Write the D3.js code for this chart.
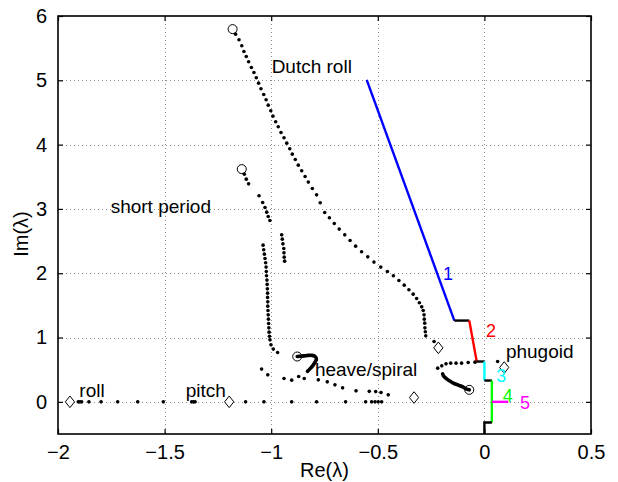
<!DOCTYPE html>
<html>
<head>
<meta charset="utf-8">
<script src="https://cdn.jsdelivr.net/npm/d3@7"></script>
<style>
  html, body { margin: 0; padding: 0; background: #fff; }
  svg { display: block; font-family: "Liberation Sans", Arial, Helvetica, sans-serif; }
</style>
</head>
<body>
<div id="chart"></div>
<script>
/* ---------- data (Re, Im) ---------- */
const xTicks = [-2, -1.5, -1, -0.5, 0, 0.5];
const yTicks = [0, 1, 2, 3, 4, 5, 6];

const dutchRoll = [
  [-1.167,5.718],[-1.151,5.630],[-1.138,5.537],[-1.128,5.448],[-1.117,5.370],
  [-1.106,5.288],[-1.093,5.199],[-1.081,5.121],[-1.070,5.039],[-1.059,4.956],
  [-1.048,4.868],[-1.035,4.779],[-1.024,4.697],[-1.014,4.614],[-1.002,4.526],
  [-0.992,4.443],[-0.979,4.355],[-0.967,4.277],[-0.954,4.188],[-0.940,4.106],
  [-0.927,4.023],[-0.913,3.935],[-0.901,3.852],[-0.887,3.768],[-0.873,3.681],
  [-0.857,3.593],[-0.841,3.504],[-0.826,3.417],[-0.807,3.317],[-0.787,3.219],
  [-0.770,3.095],[-0.749,2.944],[-0.727,2.862],[-0.704,2.773],[-0.681,2.686],
  [-0.655,2.597],[-0.630,2.509],[-0.604,2.421],[-0.576,2.333],[-0.547,2.255],
  [-0.518,2.173],[-0.486,2.095],[-0.455,2.026],[-0.427,1.960],[-0.401,1.886],
  [-0.376,1.815],[-0.354,1.742],[-0.334,1.675],[-0.318,1.607],[-0.305,1.540],
  [-0.294,1.477],[-0.287,1.420],[-0.283,1.353],[-0.282,1.286],[-0.280,1.224],
  [-0.279,1.151],[-0.277,1.089],[-0.275,1.026],[-0.236,0.938]
];

const shortPeriodA = [
  [-1.126,3.541],[-1.117,3.463],[-1.106,3.390],[-1.057,3.204],[-1.040,3.100],
  [-1.029,3.022],[-1.021,2.950],[-1.014,2.882],[-1.006,2.820]
];
const shortPeriodB = [
  [-0.951,2.597],[-0.948,2.530],[-0.945,2.457],[-0.941,2.384],[-0.940,2.317],
  [-0.939,2.250],[-0.937,2.188]
];
const shortPeriodC = [
  [-1.038,2.437],[-1.035,2.364],[-1.032,2.297],[-1.029,2.229],[-1.026,2.162],
  [-1.024,2.095],[-1.023,2.028],[-1.022,1.960],[-1.020,1.893],[-1.019,1.826],
  [-1.018,1.757],[-1.017,1.690],[-1.017,1.624],[-1.016,1.555],[-1.016,1.488],
  [-1.015,1.421],[-1.014,1.353],[-1.013,1.286],[-1.012,1.219],[-1.011,1.151],
  [-1.010,1.084],[-1.008,1.019],[-1.006,0.964],[-1.001,0.886],[-0.990,0.820],
  [-0.970,0.767]
];

const heaveHook = [
  [-0.878,0.705],[-0.865,0.708],[-0.846,0.715],[-0.827,0.723],[-0.809,0.723],
  [-0.795,0.708],[-0.788,0.669],[-0.795,0.614],[-0.804,0.568],[-0.816,0.521],
  [-0.830,0.474]
];
const heaveDots = [
  [-1.045,0.509],[-1.016,0.420],[-0.940,0.362],[-0.904,0.337],[-0.871,0.393],
  [-0.845,0.362],[-0.779,0.342],[-0.737,0.311],[-0.701,0.264],[-0.665,0.218],
  [-0.602,0.171],[-0.540,0.163],[-0.510,0.159],[-0.485,0.145],[-0.451,0.109]
];

const realAxisDots = [
  -1.905,-1.897,-1.889,-1.855,-1.798,-1.720,-1.626,-1.506,-1.373,-1.365,-1.357,
  -1.120,-1.034,-0.904,-0.787,-0.651,-0.557,-0.529,-0.513,-0.498,-0.482
];

const phugoidHook = [
  [-0.071,0.187],[-0.086,0.202],[-0.099,0.229],[-0.119,0.257],[-0.146,0.291],
  [-0.164,0.327],[-0.177,0.358],[-0.190,0.397],[-0.196,0.435]
];
const phugoidDots = [
  [-0.219,0.524],[-0.200,0.560],[-0.180,0.591],[-0.158,0.602],[-0.133,0.602],
  [-0.107,0.602],[-0.076,0.611],[-0.044,0.617],[0.062,0.627]
];

const openCircles = [[-1.181,5.796],[-1.138,3.619],[-0.878,0.705],[-0.071,0.187]];
const diamonds = [[-1.944,0],[-1.197,0],[-0.330,0.067],[-0.216,0.840],[0.093,0.534]];

// gain path pieces, in drawing order
const pathSegments = [
  [[-0.552,5.008],[-0.141,1.264]],
  [[-0.141,1.264],[-0.071,1.264]],
  [[-0.071,1.264],[-0.036,0.627]],
  [[-0.036,0.627],[0,0.627]],
  [[0,0.627],[0,0.331]],
  [[0,0.331],[0.035,0.331]],
  [[0.035,0.331],[0.035,-0.32]],
  [[0.035,-0.32],[0,-0.32],[0,-0.5]],
  [[0.035,0],[0.112,0]]
];
const segmentColors = ["#0000ff","#000","#ff0000","#000","#00ffff","#000","#00ff00","#000","#ff00ff"];

const stepLabels = ["1","2","3","4","5"];
const stepLabelPos = [[-0.194,1.897],[0.008,1.016],[0.056,0.306],[0.086,-0.005],[0.167,-0.109]];
const stepLabelColors = ["#0000ff","#ff0000","#00ffff","#00ff00","#ff00ff"];

const modeNames = ["Dutch roll","short period","heave/spiral","phugoid","roll","pitch"];
const modePos = [[-0.998,5.112],[-1.753,2.939],[-0.795,0.404],[0.101,0.684],[-1.900,0.073],[-1.401,0.082]];

/* ---------- layout ---------- */
const W = 618, H = 482;
const mLeft = 58, mRight = 591, mTop = 16, mBottom = 434;

const svg = d3.select("#chart").append("svg")
  .attr("width", W)
  .attr("height", H);

const x = d3.scaleLinear().domain([-2, 0.5]).range([mLeft, mRight]);
const y = d3.scaleLinear().domain([-0.5, 6]).range([mBottom, mTop]);

const fmt = d => String(d).replace("-", "\u2212");

/* grid */
const grid = svg.append("g")
  .attr("stroke", "#8c8c8c")
  .attr("stroke-width", 1)
  .attr("stroke-dasharray", "1,3");

grid.selectAll(".gx")
  .data(xTicks.slice(1, -1))
  .enter().append("line")
  .attr("x1", d => Math.round(x(d)) + 0.5).attr("x2", d => Math.round(x(d)) + 0.5)
  .attr("y1", mTop).attr("y2", mBottom);

grid.selectAll(".gy")
  .data(yTicks.slice(0, -1))
  .enter().append("line")
  .attr("y1", d => Math.round(y(d)) + 0.5).attr("y2", d => Math.round(y(d)) + 0.5)
  .attr("x1", mLeft).attr("x2", mRight);

/* axes (MATLAB box style, ticks inside on all sides) */
const tickLen = 5;
const axisStyle = g => {
  g.select(".domain").remove();
  g.selectAll("line").attr("stroke", "#000").attr("stroke-width", 1.2);
  g.selectAll("text").attr("font-size", 20).attr("fill", "#000");
};

svg.append("g")
  .attr("transform", `translate(0,${mBottom})`)
  .call(d3.axisBottom(x).tickValues(xTicks).tickSizeInner(-tickLen).tickSizeOuter(0)
    .tickPadding(11).tickFormat(fmt))
  .call(axisStyle);

svg.append("g")
  .attr("transform", `translate(0,${mTop})`)
  .call(d3.axisTop(x).tickValues(xTicks).tickSizeInner(-tickLen).tickSizeOuter(0).tickFormat(""))
  .call(axisStyle);

svg.append("g")
  .attr("transform", `translate(${mLeft},0)`)
  .call(d3.axisLeft(y).tickValues(yTicks).tickSizeInner(-tickLen).tickSizeOuter(0)
    .tickPadding(11).tickFormat(fmt))
  .call(axisStyle);

svg.append("g")
  .attr("transform", `translate(${mRight},0)`)
  .call(d3.axisRight(y).tickValues(yTicks).tickSizeInner(-tickLen).tickSizeOuter(0).tickFormat(""))
  .call(axisStyle);

svg.append("rect")
  .attr("x", mLeft).attr("y", mTop)
  .attr("width", mRight - mLeft).attr("height", mBottom - mTop)
  .attr("fill", "none").attr("stroke", "#000").attr("stroke-width", 1.6);

/* axis labels */
svg.append("text")
  .attr("x", (mLeft + mRight) / 2).attr("y", 477)
  .attr("text-anchor", "middle").attr("font-size", 20)
  .text("Re(λ)");

svg.append("text")
  .attr("transform", "translate(28,234) rotate(-90)")
  .attr("text-anchor", "middle").attr("font-size", 20)
  .text("Im(λ)");

/* gain path */
const line = d3.line().x(d => x(d[0])).y(d => y(d[1]));
svg.append("g").selectAll("path")
  .data(pathSegments)
  .enter().append("path")
  .attr("d", line)
  .attr("fill", "none")
  .attr("stroke", (d, i) => segmentColors[i])
  .attr("stroke-width", 2.4);

/* root locus dots */
const dotSets = [dutchRoll, shortPeriodA, shortPeriodB, shortPeriodC, heaveDots, phugoidDots,
  realAxisDots.map(v => [v, 0])];
const dots = svg.append("g").attr("fill", "#000");
dotSets.forEach(set => {
  dots.selectAll(null)
    .data(set)
    .enter().append("circle")
    .attr("cx", d => x(d[0])).attr("cy", d => y(d[1]))
    .attr("r", 1.8);
});

/* dense parts drawn as thick strokes */
svg.append("g").selectAll("path")
  .data([heaveHook, phugoidHook])
  .enter().append("path")
  .attr("d", d3.line().curve(d3.curveCatmullRom).x(d => x(d[0])).y(d => y(d[1])))
  .attr("fill", "none")
  .attr("stroke", "#000")
  .attr("stroke-width", 3.6)
  .attr("stroke-linecap", "round");

/* start / end markers */
svg.append("g").selectAll("circle")
  .data(openCircles)
  .enter().append("circle")
  .attr("cx", d => x(d[0])).attr("cy", d => y(d[1]))
  .attr("r", 4.5)
  .attr("fill", "none").attr("stroke", "#000").attr("stroke-width", 1);

svg.append("g").selectAll("path")
  .data(diamonds)
  .enter().append("path")
  .attr("transform", d => `translate(${x(d[0])},${y(d[1])})`)
  .attr("d", "M0,-5.8L4.6,0L0,5.8L-4.6,0Z")
  .attr("fill", "#fff").attr("stroke", "#000").attr("stroke-width", 1);

/* step numbers */
svg.append("g").selectAll("text")
  .data(stepLabels)
  .enter().append("text")
  .attr("x", (d, i) => x(stepLabelPos[i][0]))
  .attr("y", (d, i) => y(stepLabelPos[i][1]))
  .attr("fill", (d, i) => stepLabelColors[i])
  .attr("font-size", 18)
  .text(d => d);

/* mode names */
svg.append("g").selectAll("text")
  .data(modeNames)
  .enter().append("text")
  .attr("x", (d, i) => x(modePos[i][0]))
  .attr("y", (d, i) => y(modePos[i][1]))
  .attr("font-size", 19)
  .attr("fill", "#000")
  .text(d => d);
</script>
</body>
</html>
